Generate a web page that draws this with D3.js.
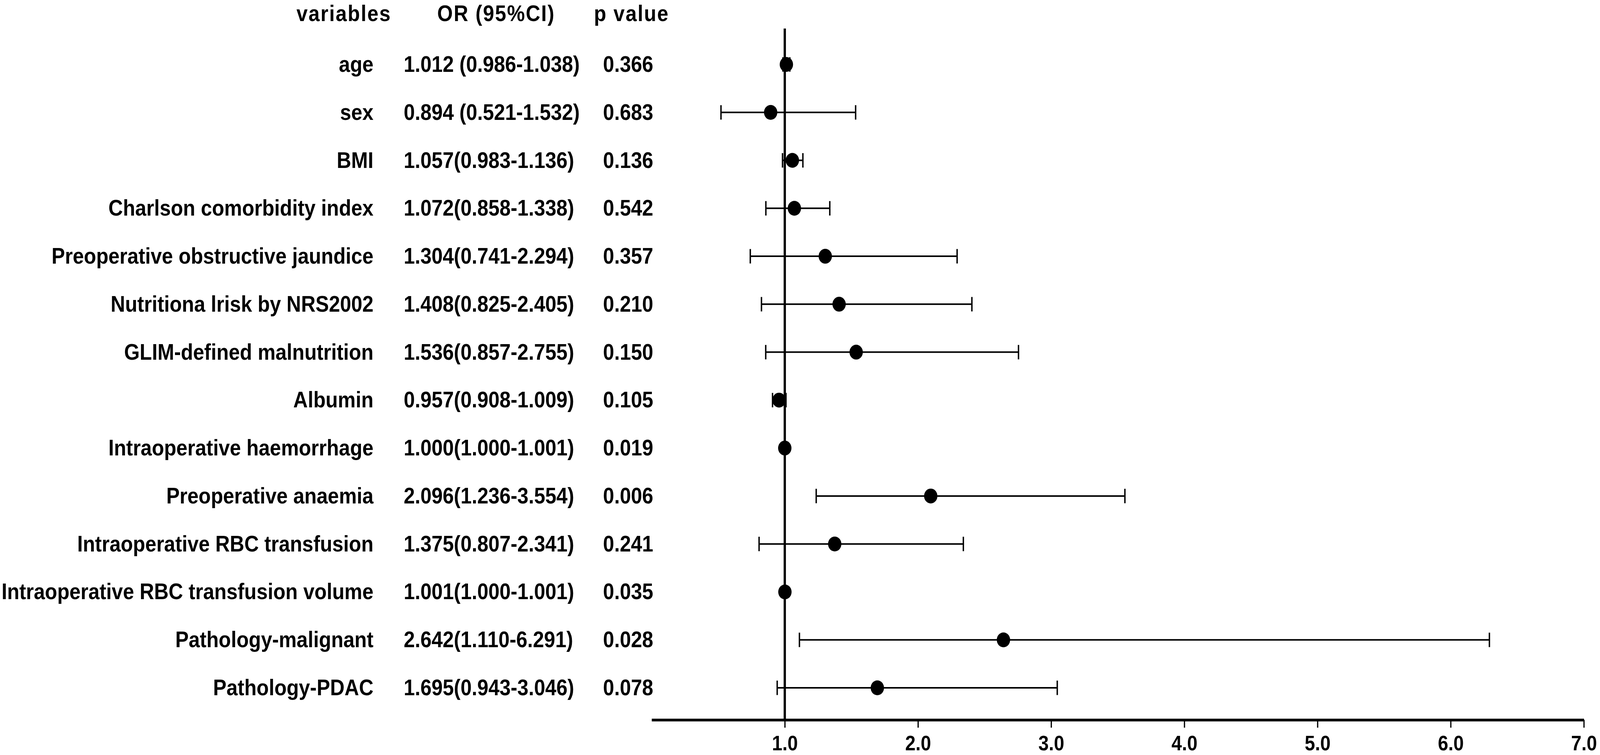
<!DOCTYPE html>
<html>
<head>
<meta charset="utf-8">
<script src="https://cdn.jsdelivr.net/npm/d3@7"></script>
<style>
  html, body { margin: 0; padding: 0; background: #fff; overflow: hidden; width: 100%; height: 100%; }
  svg { display: block; width: 100vw; height: 100vh; }
  text { font-family: "Liberation Sans", Arial, Helvetica, sans-serif; font-weight: bold; fill: #000; }
</style>
</head>
<body>
<svg id="chart" viewBox="0 0 4550 1933" preserveAspectRatio="none"></svg>
<script>
const variables = [
  "age", "sex", "BMI", "Charlson comorbidity index",
  "Preoperative obstructive jaundice", "Nutritiona lrisk by NRS2002",
  "GLIM-defined malnutrition", "Albumin", "Intraoperative haemorrhage",
  "Preoperative anaemia", "Intraoperative RBC transfusion",
  "Intraoperative RBC transfusion volume", "Pathology-malignant", "Pathology-PDAC"
];
const orValues = [1.012, 0.894, 1.057, 1.072, 1.304, 1.408, 1.536, 0.957, 1.000, 2.096, 1.375, 1.001, 2.642, 1.695];
const lowerCI  = [0.986, 0.521, 0.983, 0.858, 0.741, 0.825, 0.857, 0.908, 1.000, 1.236, 0.807, 1.000, 1.110, 0.943];
const upperCI  = [1.038, 1.532, 1.136, 1.338, 2.294, 2.405, 2.755, 1.009, 1.001, 3.554, 2.341, 1.001, 6.291, 3.046];
const orLabels = [
  "1.012 (0.986-1.038)", "0.894 (0.521-1.532)", "1.057(0.983-1.136)", "1.072(0.858-1.338)",
  "1.304(0.741-2.294)", "1.408(0.825-2.405)", "1.536(0.857-2.755)", "0.957(0.908-1.009)",
  "1.000(1.000-1.001)", "2.096(1.236-3.554)", "1.375(0.807-2.341)", "1.001(1.000-1.001)",
  "2.642(1.110-6.291)", "1.695(0.943-3.046)"
];
const pValues = ["0.366", "0.683", "0.136", "0.542", "0.357", "0.210", "0.150", "0.105", "0.019", "0.006", "0.241", "0.035", "0.028", "0.078"];
const headers = ["variables", "OR (95%CI)", "p value"];
const xTicks = [1, 2, 3, 4, 5, 6, 7];
const xDomain = [0, 7];
const refValue = 1;

const rows = variables.map((v, i) => ({
  name: v, or: orValues[i], lo: lowerCI[i], hi: upperCI[i], label: orLabels[i], p: pValues[i]
}));

const svg = d3.select("#chart");

const x = d3.scaleLinear().domain(xDomain).range([1853, 4504]);
const y = d3.scalePoint().domain(variables).range([165, 1761]);
const axisY = 1843;
const refTop = 73;

// header
const headerX = [978, 1411, 1796];
svg.append("g").selectAll("text").data(headers).join("text")
  .attr("x", (d, i) => headerX[i])
  .attr("y", 54)
  .attr("text-anchor", "middle")
  .style("font-size", "57px")
  .style("letter-spacing", "2.5px")
  .text(d => d);

// variable labels
svg.append("g").selectAll("text").data(rows).join("text")
  .attr("x", 1062)
  .attr("y", d => y(d.name) + 19)
  .attr("text-anchor", "end")
  .style("font-size", "57px")
  .text(d => d.name);

// OR labels
svg.append("g").selectAll("text").data(rows).join("text")
  .attr("x", 1148)
  .attr("y", d => y(d.name) + 19)
  .attr("text-anchor", "start")
  .style("font-size", "57px")
  .text(d => d.label);

// p values
svg.append("g").selectAll("text").data(rows).join("text")
  .attr("x", 1715)
  .attr("y", d => y(d.name) + 19)
  .attr("text-anchor", "start")
  .style("font-size", "57px")
  .text(d => d.p);

// reference line
svg.append("line")
  .attr("x1", x(refValue)).attr("x2", x(refValue))
  .attr("y1", refTop).attr("y2", axisY)
  .attr("stroke", "#000").attr("stroke-width", 6.5);

// error bars
const eb = svg.append("g").selectAll("g").data(rows).join("g");
eb.append("line")
  .attr("x1", d => x(d.lo)).attr("x2", d => x(d.hi))
  .attr("y1", d => y(d.name)).attr("y2", d => y(d.name))
  .attr("stroke", "#000").attr("stroke-width", 4);
eb.append("line")
  .attr("x1", d => x(d.lo)).attr("x2", d => x(d.lo))
  .attr("y1", d => y(d.name) - 18.5).attr("y2", d => y(d.name) + 18.5)
  .attr("stroke", "#000").attr("stroke-width", 4);
eb.append("line")
  .attr("x1", d => x(d.hi)).attr("x2", d => x(d.hi))
  .attr("y1", d => y(d.name) - 18.5).attr("y2", d => y(d.name) + 18.5)
  .attr("stroke", "#000").attr("stroke-width", 4);

// points
svg.append("g").selectAll("circle").data(rows).join("circle")
  .attr("cx", d => x(d.or))
  .attr("cy", d => y(d.name))
  .attr("r", 19)
  .attr("fill", "#000");

// x axis
const axis = d3.axisBottom(x)
  .tickValues(xTicks)
  .tickFormat(d3.format(".1f"))
  .tickSizeOuter(0)
  .tickSizeInner(20)
  .tickPadding(20);
const gx = svg.append("g").attr("transform", `translate(0,${axisY})`).call(axis);
gx.select(".domain").attr("stroke", "#000").attr("stroke-width", 7);
gx.selectAll(".tick line").attr("stroke", "#000").attr("stroke-width", 3.5);
gx.selectAll(".tick text")
  .attr("fill", "#000")
  .style("font-family", '"Liberation Sans", Arial, Helvetica, sans-serif')
  .style("font-weight", "bold")
  .style("font-size", "53px");
</script>
</body>
</html>
